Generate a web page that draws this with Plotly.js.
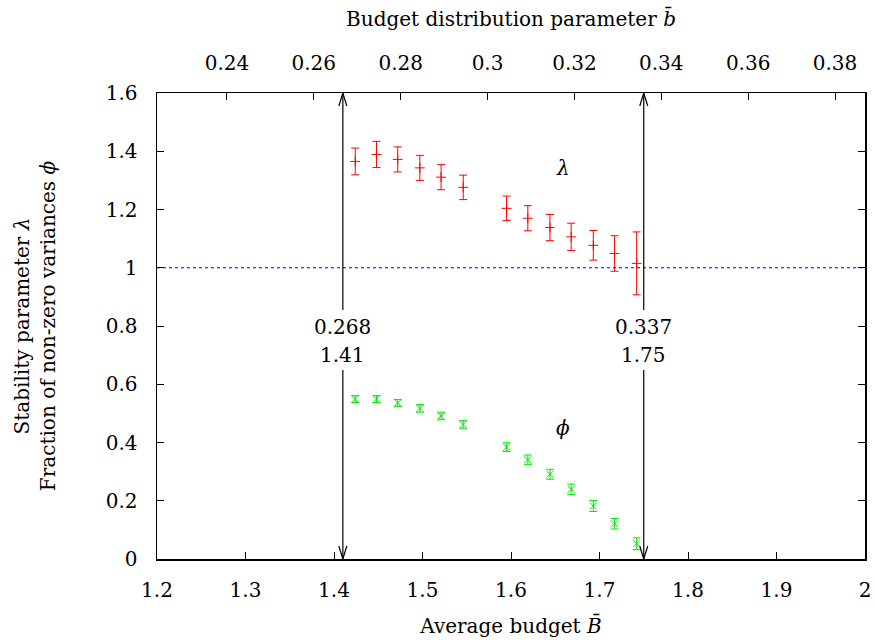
<!DOCTYPE html>
<html>
<head>
<meta charset="utf-8">
<script src="https://cdn.plot.ly/plotly-3.0.1.min.js"></script>
<style>html,body{margin:0;padding:0;background:#fff;}#chart{width:875px;height:644px;}</style>
</head>
<body>
<div id="chart"></div>
<script>
// Average budget B (bottom axis)
const budgetB = [1.424, 1.448, 1.472, 1.497, 1.521, 1.546, 1.595, 1.619, 1.644, 1.668, 1.693, 1.717, 1.742];
// Stability parameter lambda and its error
const lambdaVals = [1.365, 1.389, 1.372, 1.343, 1.311, 1.276, 1.204, 1.170, 1.138, 1.106, 1.077, 1.049, 1.015];
const lambdaErr = [0.046, 0.045, 0.043, 0.043, 0.043, 0.042, 0.042, 0.043, 0.045, 0.047, 0.051, 0.061, 0.108];
// Fraction of non-zero variances phi and its error
const phiVals = [0.549, 0.549, 0.536, 0.517, 0.491, 0.462, 0.384, 0.341, 0.291, 0.239, 0.182, 0.121, 0.0525];
const phiErr = [0.012, 0.012, 0.012, 0.013, 0.013, 0.013, 0.015, 0.016, 0.017, 0.018, 0.019, 0.018, 0.02];
// Marked thresholds
const arrowB = [1.41, 1.75];
const arrowBLabels = ['1.41', '1.75'];
const arrowbLabels = ['0.268', '0.337'];
const refLine = 1;

const FONT = '"DejaVu Serif", "Liberation Serif", serif';
const FS = 20;
const traces = [
  {
    x: budgetB, y: lambdaVals, type: 'scatter', mode: 'markers',
    marker: {symbol: 'cross-thin', size: 7, color: '#ff0000', line: {color: '#ff0000', width: 1}},
    error_y: {type: 'data', array: lambdaErr, visible: true, color: '#ff0000', thickness: 1, width: 4},
    showlegend: false, hoverinfo: 'x+y'
  },
  {
    x: budgetB, y: phiVals, type: 'scatter', mode: 'markers',
    marker: {symbol: 'x-thin', size: 7, color: '#00e600', line: {color: '#00e600', width: 1}},
    error_y: {type: 'data', array: phiErr, visible: true, color: '#00e600', thickness: 1, width: 4},
    showlegend: false, hoverinfo: 'x+y'
  },
  {
    x: [1.2, 2.0], y: [refLine, refLine], type: 'scatter', mode: 'lines',
    line: {color: '#0000ff', width: 1, dash: 'dot'}, showlegend: false, hoverinfo: 'skip'
  },
  {
    x: arrowbLabels.map(Number), y: [null, null], xaxis: 'x2', type: 'scatter', mode: 'markers',
    showlegend: false, hoverinfo: 'skip'
  }
];

const shapes = [];
const annotations = [];
arrowB.forEach((xb, i) => {
  shapes.push({type: 'line', xref: 'x', yref: 'y', x0: xb, x1: xb, y0: 1.6, y1: 0.855, line: {color: '#000', width: 1.2}});
  shapes.push({type: 'line', xref: 'x', yref: 'y', x0: xb, x1: xb, y0: 0.649, y1: 0, line: {color: '#000', width: 1.2}});
  shapes.push({type: 'path', xref: 'x', yref: 'y', xsizemode: 'pixel', ysizemode: 'pixel', xanchor: xb, yanchor: 1.6,
    path: 'M-4,-13 L0,0 L4,-13', line: {color: '#000', width: 1.2}});
  shapes.push({type: 'path', xref: 'x', yref: 'y', xsizemode: 'pixel', ysizemode: 'pixel', xanchor: xb, yanchor: 0,
    path: 'M-4,13 L0,0 L4,13', line: {color: '#000', width: 1.2}});
  annotations.push({x: xb, y: 0.797, xref: 'x', yref: 'y', text: arrowbLabels[i], showarrow: false, font: {family: FONT, size: FS, color: '#000'}});
  annotations.push({x: xb, y: 0.700, xref: 'x', yref: 'y', text: arrowBLabels[i], showarrow: false, font: {family: FONT, size: FS, color: '#000'}});
});
annotations.push({x: 1.659, y: 1.342, xref: 'x', yref: 'y', text: '<i>λ</i>', showarrow: false, font: {family: FONT, size: FS, color: '#000'}});
annotations.push({x: 1.659, y: 0.450, xref: 'x', yref: 'y', text: '<i>ϕ</i>', showarrow: false, font: {family: FONT, size: FS, color: '#000'}});

const axisCommon = {
  showgrid: false, zeroline: false, ticks: 'inside', ticklen: 7, tickwidth: 1, tickcolor: '#000',
  showline: true, linecolor: '#000', linewidth: 1.5,
  tickfont: {family: FONT, size: FS, color: '#000'}
};

const layout = {
  width: 875, height: 644,
  margin: {l: 157, r: 10, t: 93, b: 85},
  paper_bgcolor: '#fff', plot_bgcolor: '#fff',
  font: {family: FONT, size: FS, color: '#000'},
  xaxis: Object.assign({}, axisCommon, {
    range: [1.2, 2.0], dtick: 0.1, tick0: 1.2, mirror: false, ticklabelstandoff: 12,
    title: {text: 'Average budget <i>B̄</i>', font: {family: FONT, size: FS, color: '#000'}, standoff: 18}
  }),
  xaxis2: Object.assign({}, axisCommon, {
    range: [0.2239, 0.3869], dtick: 0.02, tick0: 0, overlaying: 'x', side: 'top', anchor: 'y', ticklabelstandoff: 14,
    title: {text: 'Budget distribution parameter <i>b̄</i>', font: {family: FONT, size: FS, color: '#000'}, standoff: 18}
  }),
  yaxis: Object.assign({}, axisCommon, {
    range: [0, 1.6], dtick: 0.2, tick0: 0, mirror: 'ticks', ticklabelstandoff: 14,
    title: {text: 'Stability parameter <i>λ</i><br>Fraction of non-zero variances <i>ϕ</i>', font: {family: FONT, size: FS, color: '#000'}, standoff: 44}
  }),
  shapes: shapes,
  annotations: annotations
};

Plotly.newPlot('chart', traces, layout, {displayModeBar: false, staticPlot: true});
</script>
</body>
</html>
